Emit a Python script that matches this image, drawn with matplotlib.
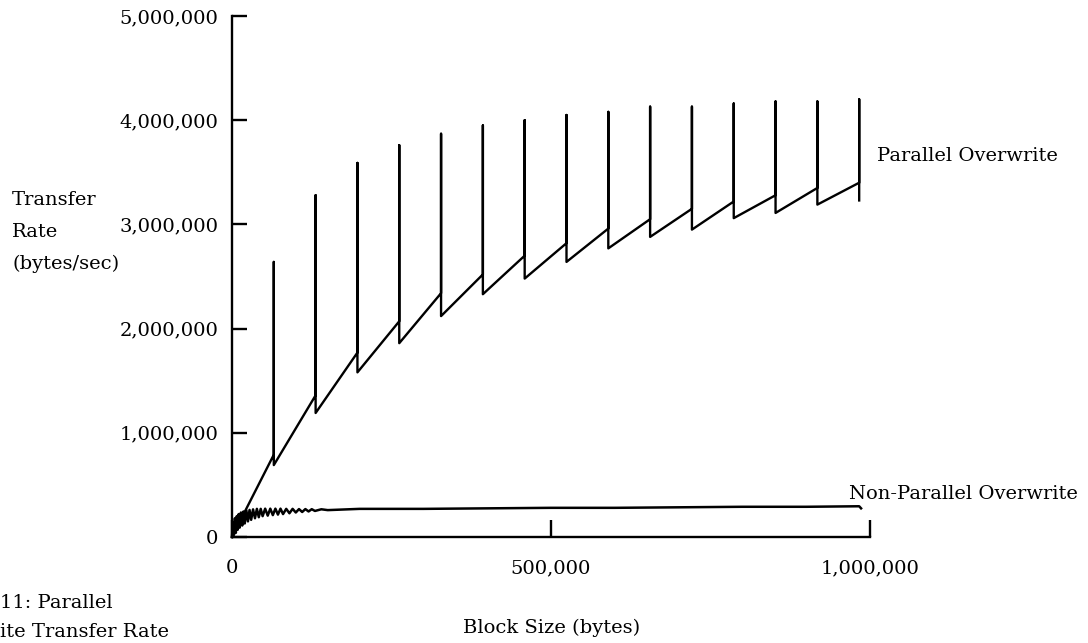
import numpy as np
import matplotlib
matplotlib.use('Agg')
import matplotlib.pyplot as plt
from matplotlib.ticker import FuncFormatter

plt.rcParams['font.family'] = ['DejaVu Serif']

# parallel overwrite: sawtooth, one tooth per 64KB
par_start_x = [0, 8192]
par_start_y = [0, 100000]
spike_x = [65536, 131072, 196608, 262144, 327680, 393216, 458752, 524288,
           589824, 655360, 720896, 786432, 851968, 917504, 983040]
arrive_y = [790000, 1360000, 1770000, 2070000, 2340000, 2520000, 2700000, 2820000,
            2960000, 3050000, 3150000, 3220000, 3280000, 3350000, 3400000]
peak_y = [2640000, 3280000, 3590000, 3760000, 3870000, 3950000, 4000000, 4050000,
          4080000, 4130000, 4130000, 4160000, 4180000, 4180000, 4200000]
drop_y = [690000, 1190000, 1580000, 1860000, 2120000, 2330000, 2480000, 2640000,
          2770000, 2880000, 2950000, 3060000, 3110000, 3190000, 3230000]

# non-parallel overwrite (noisy near small block sizes)
nonpar_x = [0, 1500, 3000, 4500, 6000, 7500, 9000, 10500, 12000, 14000, 16000,
            18000, 20000, 22500, 25000, 27500, 30000, 33000, 36000, 39000, 42000,
            45000, 48000, 52000, 56000, 60000, 64000, 68000, 72000, 76000, 80000,
            85000, 90000, 95000, 100000, 105000, 110000, 115000, 120000, 125000,
            130000, 140000, 150000, 200000, 300000, 400000, 500000, 600000, 700000,
            800000, 900000, 983040, 986000]
nonpar_y = [0, 140000, 20000, 180000, 40000, 200000, 70000, 220000, 90000, 235000,
            110000, 245000, 130000, 255000, 150000, 260000, 165000, 265000, 180000,
            270000, 190000, 270000, 200000, 272000, 205000, 272000, 210000, 272000,
            215000, 272000, 220000, 270000, 228000, 270000, 235000, 268000, 240000,
            268000, 245000, 267000, 250000, 266000, 258000, 270000, 270000, 275000,
            280000, 280000, 285000, 290000, 290000, 295000, 275000]

y_ticks = [0, 1000000, 2000000, 3000000, 4000000, 5000000]
x_ticks = [0, 500000, 1000000]

px = list(par_start_x)
py = list(par_start_y)
for x, a, t, b in zip(spike_x, arrive_y, peak_y, drop_y):
    px += [x, x, x]
    py += [a, t, b]

fig = plt.figure(figsize=(10.88, 6.43), dpi=100)
ax = fig.add_axes([232/1088, 1 - 537/643, 638/1088, 521/643])

ax.plot(px, py, color='black', lw=1.7, clip_on=False)
ax.plot(nonpar_x, nonpar_y, color='black', lw=1.8, clip_on=False)

ax.set_xlim(0, 1000000)
ax.set_ylim(0, 5000000)
ax.spines['top'].set_visible(False)
ax.spines['right'].set_visible(False)
ax.spines['left'].set_linewidth(1.7)
ax.spines['bottom'].set_linewidth(1.7)

ax.set_yticks(y_ticks)
ax.set_xticks(x_ticks)
fmt = FuncFormatter(lambda v, pos: '{:,.0f}'.format(v))
ax.yaxis.set_major_formatter(fmt)
ax.xaxis.set_major_formatter(fmt)
fs = 14
ax.tick_params(axis='y', direction='in', length=11, width=1.7, pad=10, labelsize=fs)
ax.tick_params(axis='x', direction='in', length=12, width=1.7, pad=16, labelsize=fs)

fig.text(12/1088, 1 - 200/643, 'Transfer', fontsize=fs, va='center', ha='left')
fig.text(12/1088, 1 - 232/643, 'Rate', fontsize=fs, va='center', ha='left')
fig.text(12/1088, 1 - 264/643, '(bytes/sec)', fontsize=fs, va='center', ha='left')
fig.text(552/1088, 1 - 628/643, 'Block Size (bytes)', fontsize=fs, va='center', ha='center')
fig.text(877/1088, 1 - 156/643, 'Parallel Overwrite', fontsize=fs, va='center', ha='left')
fig.text(849/1088, 1 - 494/643, 'Non-Parallel Overwrite', fontsize=fs, va='center', ha='left')
fig.text(0, 1 - 603/643, '11: Parallel', fontsize=fs, va='center', ha='left')
fig.text(0, 1 - 632/643, 'ite Transfer Rate', fontsize=fs, va='center', ha='left')

fig.savefig('out.png', dpi=100)
